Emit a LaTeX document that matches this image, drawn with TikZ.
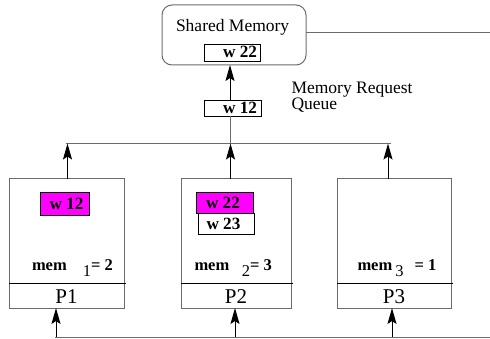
\documentclass[tikz,border=0pt]{standalone}
\usepackage{fontspec}
\setmainfont{Liberation Serif}
\usetikzlibrary{arrows.meta,calc}
\definecolor{hilite}{RGB}{255,0,255}
\definecolor{edge}{gray}{0.42}

\begin{document}
\begin{tikzpicture}[x=1pt,y=-1pt,
  box/.style={draw=edge, line width=1pt, inner sep=0pt, outer sep=0pt, anchor=north west},
  cell/.style={draw=black, line width=0.8pt, inner sep=0pt, outer sep=0pt, anchor=north west},
  wire/.style={draw=edge, line width=1pt},
  arr/.style={draw=black, line width=1pt, -{Stealth[length=16pt,width=9pt,inset=3pt]}},
  txt/.style={inner sep=0pt, outer sep=0pt, font=\fontsize{17.5}{17.5}\selectfont},
  btxt/.style={inner sep=0pt, outer sep=0pt, font=\fontsize{17.2}{17.2}\selectfont\bfseries},
  ptxt/.style={inner sep=0pt, outer sep=0pt, font=\fontsize{21}{21}\selectfont},
  memtxt/.style={inner sep=0pt, outer sep=0pt, anchor=base west, font=\fontsize{16.5}{16.5}\selectfont},
]
\useasboundingbox (0,0) rectangle (490,339);

% shared memory and the request queue
\node[box, rounded corners=10pt, minimum width=144pt, minimum height=60pt] (sm) at (162,5) {};
\node[txt, anchor=base west] (smlabel) at (176,31.5) {Shared Memory};
\node[cell, minimum width=56pt, minimum height=17pt] (smw) at (204,44) {};
\node[btxt, anchor=base east] at (257,58) {w 22};
\node[cell, minimum width=57pt, minimum height=16pt] (q) at (204,100) {};
\node[btxt, anchor=base east] at (257,114) {w 12};
\node[txt, anchor=base west] (qlabel1) at (291.5,93.3) {Memory Request};
\node[txt, anchor=base west] (qlabel2) at (291.5,110) {Queue};

% processors
\node[box, minimum width=115pt, minimum height=129pt] (p1) at (9,179) {};
\node[box, minimum width=110pt, minimum height=129pt] (p2) at (181,179) {};
\node[box, minimum width=114pt, minimum height=129pt] (p3) at (337,179) {};
\foreach \p in {p1,p2,p3}{
  \draw[black, line width=0.8pt] ($(\p.north west)+(0,104)$) -- ($(\p.north east)+(2,104)$);
}
\node[ptxt, anchor=base] at ($(p1.south)+(0,-5)$) {P1};
\node[ptxt, anchor=base] at ($(p2.south)+(0,-5)$) {P2};
\node[ptxt, anchor=base] at ($(p3.south)+(0,-5)$) {P3};

% local buffers
\node[cell, fill=hilite, minimum width=49pt, minimum height=23pt] (m1) at (40,192) {};
\node[btxt, anchor=base west] at (49.5,209.5) {w 12};
\node[cell, fill=hilite, minimum width=57pt, minimum height=21pt] (m2) at (196,192) {};
\node[btxt, anchor=base west] at (206,208.5) {w 22};
\node[cell, fill=white, minimum width=56pt, minimum height=21pt] (m3) at (198,213) {};
\node[btxt, anchor=base west] at (206.5,230) {w 23};

% counters
\node[memtxt] (mem1) at (32,270.5) {\textbf{mem}\hspace{16pt}\raisebox{-6pt}{1}\textbf{= 2}};
\node[memtxt] (mem2) at (194.5,270.5) {\textbf{mem}\hspace{12.5pt}\raisebox{-6pt}{2}\textbf{= 3}};
\node[memtxt] (mem3) at (357.5,270.5) {\textbf{mem}\hspace{3pt}\raisebox{-6pt}{3}\hspace{11pt}\textbf{= 1}};

% connectors
\coordinate (qx) at (230,0);
\coordinate (tl) at (65.5,143.5);
\coordinate (tr) at (390.5,143.5);
\coordinate (bl) at (55,337);
\coordinate (br) at (490,337);
\coordinate (smr) at (490,33);
\coordinate (a1) at (67.5,0);
\coordinate (a2) at (230.5,0);
\coordinate (a3) at (388,0);
\coordinate (b1) at (56,0);
\coordinate (b2) at (235,0);
\coordinate (b3) at (392,0);

\draw[arr] (q.north -| qx) -- (sm.south -| qx);
\draw[wire] (q.south -| qx) -- (qx |- tl);
\draw[wire] (tl) -- (tr);
\draw[wire] (sm.east |- smr) -- (smr);
\draw[wire] (bl) -- (br);
\foreach \p/\a in {p1/a1,p2/a2,p3/a3}{
  \draw[arr] (\p.north -| \a) -- (\a |- tl);
}
\foreach \p/\b in {p1/b1,p2/b2,p3/b3}{
  \draw[arr] (\b |- bl) -- (\p.south -| \b);
}
\end{tikzpicture}
\end{document}
